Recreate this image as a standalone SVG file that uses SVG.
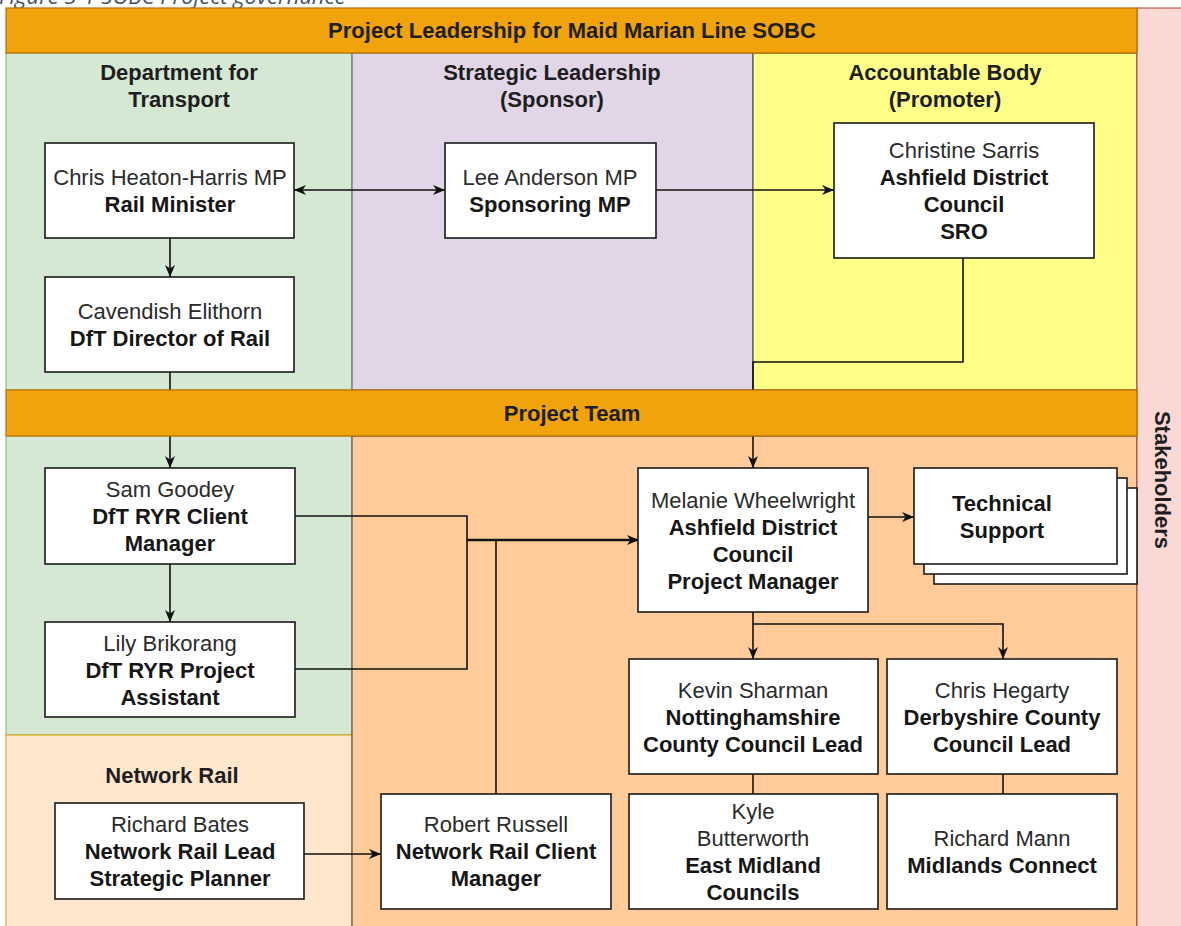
<svg xmlns="http://www.w3.org/2000/svg" width="1181" height="926" viewBox="0 0 1181 926">
  <style>
    .t{font-family:"Liberation Sans",Arial,sans-serif;font-size:22px;text-anchor:middle;fill:#2b2b2b}
    .b{font-weight:bold;fill:#161616}
    .hd{font-family:"Liberation Sans",Arial,sans-serif;font-size:22px;font-weight:bold;text-anchor:middle;fill:#1e1e1e}
    .bar{fill:#F0A30A;stroke:#BD7000;stroke-width:1.2}
    .box{fill:#fff;stroke:#1a1a1a;stroke-width:1.6}
    .wire{fill:none;stroke:#111;stroke-width:1.6}
    .thick{fill:none;stroke:#111;stroke-width:2.6}
  </style>
  <defs>
    <marker id="arr" viewBox="0 0 12 10" refX="12" refY="5" markerWidth="12" markerHeight="10" markerUnits="userSpaceOnUse" orient="auto-start-reverse">
      <path d="M0,0 L12,5 L0,10 L3.5,5 Z" fill="#111"/>
    </marker>
  </defs>

  <rect x="0" y="0" width="1181" height="926" fill="#fff"/>

  <!-- caption, mostly above the page edge -->
  <text x="-1" y="4" font-family="'Open Sans',sans-serif" font-style="italic" font-size="22" fill="#44546A">Figure 3-1 SOBC Project governance</text>

  <!-- swimlane panels -->
  <g id="panels">
    <rect x="6" y="53" width="346" height="337" fill="#D5E8D4" stroke="#82B366" stroke-width="1"/>
    <rect x="352" y="53" width="401" height="337" fill="#E1D5E7" stroke="#555" stroke-width="1"/>
    <rect x="753" y="53" width="384" height="337" fill="#FFFF88" stroke="#36393d" stroke-width="1"/>
    <rect x="6" y="436" width="346" height="299" fill="#D5E8D4" stroke="#82B366" stroke-width="1"/>
    <rect x="6" y="735" width="346" height="200" fill="#FFE6CC" stroke="#D79B00" stroke-width="1"/>
    <rect x="352" y="436" width="785" height="500" fill="#FFCC99" stroke="#36393d" stroke-width="1"/>
    <rect x="1137" y="8" width="50" height="930" fill="#FAD9D5" stroke="#AE4132" stroke-width="1"/>
  </g>

  <!-- lane headings -->
  <g id="headings">
    <text class="hd" x="179" y="80">Department for</text>
    <text class="hd" x="179" y="107">Transport</text>
    <text class="hd" x="552" y="80">Strategic Leadership</text>
    <text class="hd" x="552" y="107">(Sponsor)</text>
    <text class="hd" x="945" y="80">Accountable Body</text>
    <text class="hd" x="945" y="107">(Promoter)</text>
    <text class="hd" x="172" y="783">Network Rail</text>
    <text class="hd" transform="translate(1163,480) rotate(90)" x="0" y="8">Stakeholders</text>
  </g>

  <!-- connectors -->
  <g id="connectors">
    <path class="wire" d="M294,190 H445" marker-start="url(#arr)" marker-end="url(#arr)"/>
    <path class="wire" d="M170,238 V277" marker-end="url(#arr)"/>
    <path class="wire" d="M656,190 H834" marker-end="url(#arr)"/>
    <path class="wire" d="M170,372 V392"/>
    <path class="wire" d="M170,434 V468" marker-end="url(#arr)"/>
    <path class="wire" d="M963,258 V362 H753 V392"/>
    <path class="wire" d="M753,434 V468" marker-end="url(#arr)"/>
    <path class="wire" d="M170,564 V622" marker-end="url(#arr)"/>
    <path class="wire" d="M295,516 H467 V669 H295"/>
    <path class="wire" d="M496,794 V540"/>
    <path class="thick" d="M467,540 H639" marker-end="url(#arr)"/>
    <path class="wire" d="M868,517 H914" marker-end="url(#arr)"/>
    <path class="wire" d="M753,612 V659" marker-end="url(#arr)"/>
    <path class="wire" d="M753,624 H1003 V659" marker-end="url(#arr)"/>
    <path class="wire" d="M753,774 V794"/>
    <path class="wire" d="M1003,774 V794"/>
    <path class="wire" d="M304,854 H381" marker-end="url(#arr)"/>
  </g>

  <!-- section bars -->
  <g id="bar-leadership">
    <rect class="bar" x="6" y="8" width="1131" height="45"/>
    <text class="hd" x="572" y="38">Project Leadership for Maid Marian Line SOBC</text>
  </g>
  <g id="bar-team">
    <rect class="bar" x="6" y="390" width="1131" height="46"/>
    <text class="hd" x="572" y="421">Project Team</text>
  </g>

  <g id="rail-minister">
    <rect class="box" x="45" y="143" width="249" height="95"/>
    <text class="t" x="170" y="185">Chris Heaton-Harris MP</text>
    <text class="t b" x="170" y="212">Rail Minister</text>
  </g>
  <g id="sponsoring-mp">
    <rect class="box" x="445" y="143" width="211" height="95"/>
    <text class="t" x="550" y="185">Lee Anderson MP</text>
    <text class="t b" x="550" y="212">Sponsoring MP</text>
  </g>
  <g id="sro">
    <rect class="box" x="834" y="123" width="260" height="135"/>
    <text class="t" x="964" y="158">Christine Sarris</text>
    <text class="t b" x="964" y="185">Ashfield District</text>
    <text class="t b" x="964" y="212">Council</text>
    <text class="t b" x="964" y="239">SRO</text>
  </g>
  <g id="director-rail">
    <rect class="box" x="45" y="277" width="249" height="95"/>
    <text class="t" x="170" y="319">Cavendish Elithorn</text>
    <text class="t b" x="170" y="346">DfT Director of Rail</text>
  </g>
  <g id="client-manager">
    <rect class="box" x="45" y="468" width="250" height="96"/>
    <text class="t" x="170" y="497">Sam Goodey</text>
    <text class="t b" x="170" y="524">DfT RYR Client</text>
    <text class="t b" x="170" y="551">Manager</text>
  </g>
  <g id="project-assistant">
    <rect class="box" x="45" y="622" width="250" height="95"/>
    <text class="t" x="170" y="651">Lily Brikorang</text>
    <text class="t b" x="170" y="678">DfT RYR Project</text>
    <text class="t b" x="170" y="705">Assistant</text>
  </g>
  <g id="project-manager">
    <rect class="box" x="638" y="468" width="230" height="144"/>
    <text class="t" x="753" y="508">Melanie Wheelwright</text>
    <text class="t b" x="753" y="535">Ashfield District</text>
    <text class="t b" x="753" y="562">Council</text>
    <text class="t b" x="753" y="589">Project Manager</text>
  </g>
  <g id="technical-support">
    <rect class="box" x="934" y="488" width="203" height="96"/>
    <rect class="box" x="924" y="478" width="203" height="96"/>
    <rect class="box" x="914" y="468" width="203" height="96"/>
    <text class="t b" x="1002" y="511">Technical</text>
    <text class="t b" x="1002" y="538">Support</text>
  </g>
  <g id="notts-lead">
    <rect class="box" x="629" y="659" width="249" height="115"/>
    <text class="t" x="753" y="698">Kevin Sharman</text>
    <text class="t b" x="753" y="725">Nottinghamshire</text>
    <text class="t b" x="753" y="752">County Council Lead</text>
  </g>
  <g id="derby-lead">
    <rect class="box" x="887" y="659" width="230" height="115"/>
    <text class="t" x="1002" y="698">Chris Hegarty</text>
    <text class="t b" x="1002" y="725">Derbyshire County</text>
    <text class="t b" x="1002" y="752">Council Lead</text>
  </g>
  <g id="east-midland">
    <rect class="box" x="629" y="794" width="249" height="115"/>
    <text class="t" x="753" y="819">Kyle</text>
    <text class="t" x="753" y="846">Butterworth</text>
    <text class="t b" x="753" y="873">East Midland</text>
    <text class="t b" x="753" y="900">Councils</text>
  </g>
  <g id="midlands-connect">
    <rect class="box" x="887" y="794" width="230" height="115"/>
    <text class="t" x="1002" y="846">Richard Mann</text>
    <text class="t b" x="1002" y="873">Midlands Connect</text>
  </g>
  <g id="nr-planner">
    <rect class="box" x="55" y="803" width="249" height="96"/>
    <text class="t" x="180" y="832">Richard Bates</text>
    <text class="t b" x="180" y="859">Network Rail Lead</text>
    <text class="t b" x="180" y="886">Strategic Planner</text>
  </g>
  <g id="nr-client-manager">
    <rect class="box" x="381" y="794" width="230" height="115"/>
    <text class="t" x="496" y="832">Robert Russell</text>
    <text class="t b" x="496" y="859">Network Rail Client</text>
    <text class="t b" x="496" y="886">Manager</text>
  </g>
</svg>
